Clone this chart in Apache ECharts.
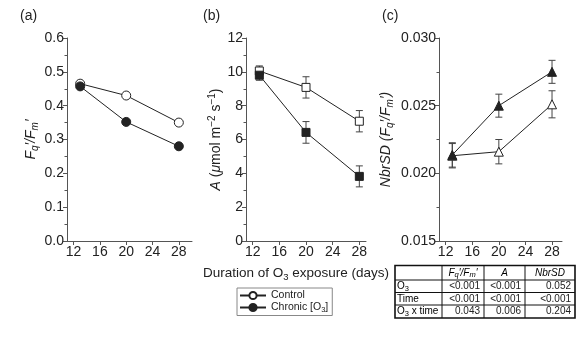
<!DOCTYPE html>
<html><head><meta charset="utf-8">
<script src="https://cdn.jsdelivr.net/npm/echarts@6/dist/echarts.min.js"></script>
<style>html,body{margin:0;padding:0;background:#fff}#c{width:577px;height:338px}</style>
</head><body><div id="c"></div>
<script>
const days = [13, 20, 28];
const xTicks = [12, 16, 20, 24, 28];
const fqControl = [0.465, 0.43, 0.35];
const fqChronic = [0.457, 0.352, 0.28];
const aControl = [10.05, 9.08, 7.08];
const aControlErr = [0.3, 0.63, 0.63];
const aChronic = [9.8, 6.42, 3.82];
const aChronicErr = [0.3, 0.64, 0.62];
const nbrControl = [0.0213, 0.0216, 0.0251];
const nbrControlErr = [0.0009, 0.0009, 0.001];
const nbrChronic = [0.02136, 0.0250, 0.0275];
const nbrChronicErr = [0.0009, 0.00085, 0.00085];
const seriesNames = ['Control', 'Chronic [O3]'];
const panelLabels = ['(a)', '(b)', '(c)'];
const tableCols = ['{ic|F}{isub|q}{ic|′/F}{isub|m}{ic|′}', '{ic|A}', '{ic|NbrSD}'];
const tableRowNames = ['{t|O}{tsub|3}', '{t|Time}', '{t|O}{tsub|3}{t| x time}'];
const tableValues = [['<0.001', '<0.001', '0.052'], ['<0.001', '<0.001', '<0.001'], ['0.043', '0.006', '0.204']];

const FONT = 'Liberation Sans, Arial, sans-serif';
const INK = '#222';
const AX = '#555';

const nameRich = {
  n: {fontSize: 14, fontFamily: FONT, color: INK, lineHeight: 18},
  i: {fontSize: 14, fontFamily: FONT, color: INK, fontStyle: 'italic', lineHeight: 18},
  sub: {fontSize: 10, fontFamily: FONT, color: INK, verticalAlign: 'bottom', height: 10, lineHeight: 18},
  isub: {fontSize: 10, fontFamily: FONT, color: INK, fontStyle: 'italic', verticalAlign: 'bottom', height: 10, lineHeight: 18},
  sup: {fontSize: 10, fontFamily: FONT, color: INK, verticalAlign: 'top', height: 10, lineHeight: 18}
};
const xNameRich = {
  n: {fontSize: 13.5, fontFamily: FONT, color: INK, lineHeight: 18},
  sub: {fontSize: 9.5, fontFamily: FONT, color: INK, verticalAlign: 'bottom', height: 10, lineHeight: 18}
};

function xAxis(gi, max, extra) {
  return Object.assign({
    type: 'value', gridIndex: gi, min: 11, max: max,
    axisLine: {show: true, lineStyle: {color: AX, width: 1}},
    axisTick: {show: true, length: 4, customValues: xTicks, lineStyle: {color: AX}},
    axisLabel: {customValues: xTicks, color: INK, fontSize: 14, fontFamily: FONT, margin: 4},
    splitLine: {show: false}
  }, extra || {});
}
function yAxis(gi, min, max, interval, dec, name, gap) {
  return {
    type: 'value', gridIndex: gi, min: min, max: max, interval: interval,
    axisLine: {show: true, lineStyle: {color: AX, width: 1}},
    axisTick: {show: true, length: 4, lineStyle: {color: AX}},
    minorTick: {show: true, splitNumber: 2, length: 2.5, lineStyle: {color: AX}},
    axisLabel: {color: INK, fontSize: 14, fontFamily: FONT, margin: 3, formatter: v => v.toFixed(dec)},
    splitLine: {show: false},
    name: name, nameLocation: 'middle', nameGap: gap,
    nameTextStyle: {rich: nameRich, fontSize: 14, fontFamily: FONT, color: INK}
  };
}
function lineSeries(name, gi, vals, symbol, filled, size) {
  return {
    name: name, type: 'line', xAxisIndex: gi, yAxisIndex: gi,
    data: days.map((d, i) => [d, vals[i]]),
    symbol: symbol, symbolSize: size, showSymbol: true,
    lineStyle: {color: INK, width: 1},
    itemStyle: {color: filled ? INK : '#fff', borderColor: INK, borderWidth: 1},
    emphasis: {disabled: true}, z: 3
  };
}
function errSeries(gi, vals, errs) {
  return {
    type: 'custom', xAxisIndex: gi, yAxisIndex: gi, silent: true, z: 1,
    data: days.map((d, i) => [d, vals[i] - errs[i], vals[i] + errs[i]]),
    encode: {x: 0, y: [1, 2]},
    renderItem: function (params, api) {
      const x = api.value(0);
      const lo = api.coord([x, api.value(1)]);
      const hi = api.coord([x, api.value(2)]);
      const w = 3.5;
      const st = {stroke: '#444', lineWidth: 1};
      return {type: 'group', children: [
        {type: 'line', shape: {x1: lo[0], y1: lo[1], x2: hi[0], y2: hi[1]}, style: st},
        {type: 'line', shape: {x1: lo[0] - w, y1: lo[1], x2: lo[0] + w, y2: lo[1]}, style: st},
        {type: 'line', shape: {x1: hi[0] - w, y1: hi[1], x2: hi[0] + w, y2: hi[1]}, style: st}
      ]};
    }
  };
}

// table graphics
const colX = [395, 442, 484, 525, 575];
const rowY = [265.5, 280, 292.5, 305, 318];
const TF = 10;
const tableRich = {
  t: {fontSize: TF, fontFamily: FONT, color: INK, lineHeight: 13},
  tsub: {fontSize: 7.5, fontFamily: FONT, color: INK, verticalAlign: 'bottom', height: 8, lineHeight: 13},
  ic: {fontSize: TF, fontFamily: FONT, color: INK, fontStyle: 'italic', lineHeight: 13},
  isub: {fontSize: 7.5, fontFamily: FONT, color: INK, fontStyle: 'italic', verticalAlign: 'bottom', height: 8, lineHeight: 13}
};
const tableGraphics = [];
tableGraphics.push({type: 'rect', shape: {x: colX[0], y: rowY[0], width: colX[4] - colX[0], height: rowY[4] - rowY[0]}, style: {fill: 'none', stroke: '#111', lineWidth: 1.6}});
for (let c = 1; c < 4; c++) tableGraphics.push({type: 'line', shape: {x1: colX[c], y1: rowY[0], x2: colX[c], y2: rowY[4]}, style: {stroke: '#111', lineWidth: 1}});
for (let r = 1; r < 4; r++) tableGraphics.push({type: 'line', shape: {x1: colX[0], y1: rowY[r], x2: colX[4], y2: rowY[r]}, style: {stroke: '#111', lineWidth: 1}});
tableCols.forEach((t, c) => tableGraphics.push({type: 'text', x: (colX[c + 1] + colX[c + 2]) / 2, y: (rowY[0] + rowY[1]) / 2, style: {text: t, rich: tableRich, align: 'center', verticalAlign: 'middle'}}));
tableRowNames.forEach((t, r) => tableGraphics.push({type: 'text', x: colX[0] + 2, y: (rowY[r + 1] + rowY[r + 2]) / 2, style: {text: t, rich: tableRich, align: 'left', verticalAlign: 'middle'}}));
tableValues.forEach((row, r) => row.forEach((v, c) => tableGraphics.push({type: 'text', x: colX[c + 2] - 4, y: (rowY[r + 1] + rowY[r + 2]) / 2, style: {text: v, fontSize: TF, fontFamily: FONT, fill: INK, align: 'right', verticalAlign: 'middle'}})));

const panelX = [20, 203, 382];
const labelGraphics = panelLabels.map((t, i) => ({type: 'text', left: panelX[i], top: 9, style: {text: t, fontSize: 14, fontFamily: FONT, fill: INK}}));

const option = {
  animation: false,
  backgroundColor: '#fff',
  grid: [
    {left: 67, top: 38, width: 125, height: 203},
    {left: 246, top: 38, width: 120, height: 203},
    {left: 439, top: 38, width: 123, height: 203}
  ],
  xAxis: [
    xAxis(0, 30),
    xAxis(1, 29, {name: '{n|Duration of O}{sub|3}{n| exposure (days)}', nameLocation: 'middle', nameGap: 23,
      nameTextStyle: {rich: xNameRich, padding: [0, 20, 0, 0]}}),
    xAxis(2, 29.5)
  ],
  yAxis: [
    yAxis(0, 0, 0.6, 0.1, 1, '{i|F}{isub|q}{i|′/F}{isub|m}{i|′}', 27),
    yAxis(1, 0, 12, 2, 0, '{i|A} {n|(}{i|μ}{n|mol m}{sup|−2}{n| s}{sup|−1}{n|)}', 20),
    yAxis(2, 0.015, 0.030, 0.005, 3, '{i|NbrSD (F}{isub|q}{i|′/F}{isub|m}{i|′)}', 44)
  ],
  legend: {
    left: 237, top: 288, orient: 'vertical',
    data: seriesNames,
    borderColor: '#888', borderWidth: 1, borderRadius: 0,
    padding: [2, 4, 2, 2], itemGap: 1, itemWidth: 26, itemHeight: 9,
    selectedMode: false,
    textStyle: {fontSize: 10.5, fontFamily: FONT, color: INK,
      rich: {n: {fontSize: 10.5, fontFamily: FONT, color: INK, lineHeight: 12},
             s: {fontSize: 7.5, fontFamily: FONT, color: INK, verticalAlign: 'bottom', height: 8, lineHeight: 12}}},
    formatter: n => n === 'Control' ? '{n|Control}' : '{n|Chronic [O}{s|3}{n|]}'
  },
  graphic: labelGraphics.concat(tableGraphics),
  series: [
    lineSeries(seriesNames[0], 0, fqControl, 'circle', false, 9),
    lineSeries(seriesNames[1], 0, fqChronic, 'circle', true, 9),
    errSeries(1, aControl, aControlErr),
    errSeries(1, aChronic, aChronicErr),
    lineSeries(seriesNames[0], 1, aControl, 'rect', false, 8),
    lineSeries(seriesNames[1], 1, aChronic, 'rect', true, 8),
    errSeries(2, nbrControl, nbrControlErr),
    errSeries(2, nbrChronic, nbrChronicErr),
    lineSeries(seriesNames[0], 2, nbrControl, 'triangle', false, 9),
    lineSeries(seriesNames[1], 2, nbrChronic, 'triangle', true, 9)
  ]
};
const chart = echarts.init(document.getElementById('c'), null, {renderer: 'canvas'});
chart.setOption(option);
</script>
</body></html>
